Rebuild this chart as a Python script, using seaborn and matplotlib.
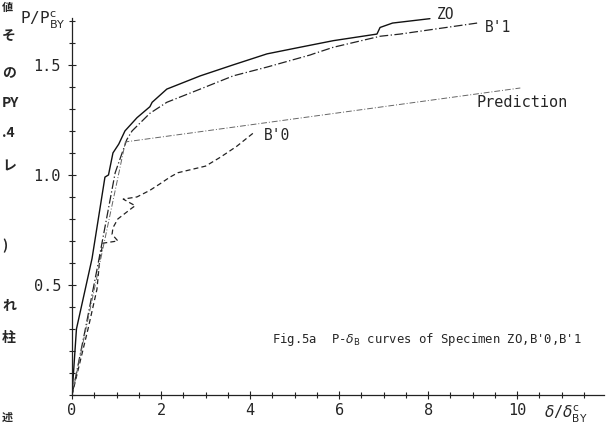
import matplotlib
matplotlib.use("Agg")
import matplotlib.pyplot as plt
import seaborn as sns
import pandas as pd
from matplotlib.ticker import MultipleLocator

sns.set_theme(style="white")
plt.rcParams['font.family'] = ['DejaVu Sans', 'Noto Sans CJK JP']

# Data
zo_x = [0.0, 0.1, 0.45, 0.74, 0.82, 0.92, 1.05, 1.19, 1.46, 1.75, 1.8, 2.13, 2.88, 3.62, 4.38, 5.12, 5.87, 6.85, 6.92, 7.2, 8.04]
zo_y = [0.0, 0.3, 0.62, 0.99, 1.0, 1.10, 1.14, 1.20, 1.26, 1.31, 1.33, 1.39, 1.45, 1.50, 1.55, 1.58, 1.61, 1.64, 1.67, 1.69, 1.71]

b1_x = [0.0, 0.3, 0.58, 0.97, 1.23, 1.35, 1.75, 2.13, 2.88, 3.62, 4.38, 5.35, 5.42, 5.87, 6.92, 7.37, 9.1]
b1_y = [0.0, 0.3, 0.59, 1.01, 1.16, 1.20, 1.28, 1.33, 1.39, 1.45, 1.49, 1.545, 1.55, 1.58, 1.63, 1.64, 1.69]

b0_x = [0.0, 0.36, 0.56, 0.63, 0.70, 1.03, 0.9, 0.92, 1.03, 1.35, 1.42, 1.15, 1.46, 1.75, 1.98, 2.2, 2.38, 3.0, 3.33, 3.7, 4.07]
b0_y = [0.0, 0.3, 0.48, 0.63, 0.69, 0.70, 0.73, 0.76, 0.80, 0.85, 0.86, 0.89, 0.90, 0.93, 0.96, 0.99, 1.01, 1.04, 1.08, 1.13, 1.19]

pred_x = [0.0, 1.2, 10.07]
pred_y = [0.0, 1.15, 1.395]

x_ticks = [0, 2, 4, 6, 8, 10]
y_ticks = [0.5, 1.0, 1.5]
y_tick_labels = ["0.5", "1.0", "1.5"]

series = {
    "ZO": (zo_x, zo_y),
    "B'1": (b1_x, b1_y),
    "B'0": (b0_x, b0_y),
    "Prediction": (pred_x, pred_y),
}
frames = []
for name, (xs, ys) in series.items():
    frames.append(pd.DataFrame({"x": xs, "y": ys, "curve": name, "order": range(len(xs))}))
df = pd.concat(frames, ignore_index=True)

styles = {
    "ZO": dict(color="#111111", lw=1.0, ls="-"),
    "B'1": dict(color="#222222", lw=0.9, ls=(0, (7, 2, 1, 2))),
    "B'0": dict(color="#222222", lw=0.9, ls=(0, (4, 2.5))),
    "Prediction": dict(color="#666666", lw=0.7, ls=(0, (6, 2, 1, 2))),
}

fig = plt.figure(figsize=(6.12, 4.26), dpi=100)
ax = fig.add_axes([72/612, 31/426, 532/612, 377/426])

for name in series:
    sub = df[df["curve"] == name]
    st = styles[name]
    sns.lineplot(data=sub, x="x", y="y", sort=False, estimator=None, ax=ax,
                 color=st["color"], linewidth=st["lw"], linestyle=st["ls"])

ax.set_xlim(0, 11.95)
ax.set_ylim(0, 1.713)
ax.set_xlabel("")
ax.set_ylabel("")
for s in ["top", "right"]:
    ax.spines[s].set_visible(False)
for s in ["left", "bottom"]:
    ax.spines[s].set_color("#222222")
    ax.spines[s].set_linewidth(0.9)

mono = "DejaVu Sans Mono"
ax.set_xticks(x_ticks)
ax.set_xticklabels([str(v) for v in x_ticks], fontsize=11, family=mono)
ax.set_yticks(y_ticks)
ax.set_yticklabels(y_tick_labels, fontsize=11, family=mono)
ax.xaxis.set_minor_locator(MultipleLocator(0.5))
ax.yaxis.set_minor_locator(MultipleLocator(0.1))
ax.tick_params(which="both", direction="inout", color="#222222", width=0.8,
               bottom=True, left=True)
ax.tick_params(which="major", length=6, pad=3)
ax.tick_params(which="minor", length=4)
ax.tick_params(axis="y", which="major", pad=5)

ax.text(8.2, 1.73, "ZO", fontsize=10.5, family=mono, ha="left", va="center", clip_on=False)
ax.text(9.28, 1.67, "B'1", fontsize=10.5, family=mono, ha="left", va="center")
ax.text(10.1, 1.327, "Prediction", fontsize=11, family=mono, ha="center", va="center")
ax.text(4.3, 1.18, "B'0", fontsize=10.5, family=mono, ha="left", va="center")
ax.text(4.49, 0.25, r"Fig.5a  P-$\delta_{\mathrm{B}}$ curves of Specimen ZO,B'0,B'1",
        fontsize=8.8, family=mono, ha="left", va="center")

fig.text(20/612, 1 - 20/426, r"P/P$_{\mathrm{BY}}^{\mathrm{c}}$", fontsize=11.5, family=mono,
         ha="left", va="center")
fig.text(544/612, 1 - 414/426, r"$\delta$/$\delta_{\mathrm{BY}}^{\mathrm{c}}$", fontsize=11,
         family=mono, ha="left", va="center")

# scanned page margin characters
cjk = ["Noto Sans CJK JP", "DejaVu Sans"]
margin = [("値", 7, 8), ("そ", 36, 10), ("の", 72, 10), ("PY", 103, 10), (".4", 133, 10),
          ("レ", 166, 10), (")", 246, 10), ("れ", 305, 10), ("柱", 338, 10), ("述", 417, 8)]
for ch, yy, fs in margin:
    fig.text(2/612, 1 - yy/426, ch, fontsize=fs, family=cjk, ha="left", va="center",
             fontweight="bold")

fig.savefig("out.png", dpi=100, facecolor="white")
